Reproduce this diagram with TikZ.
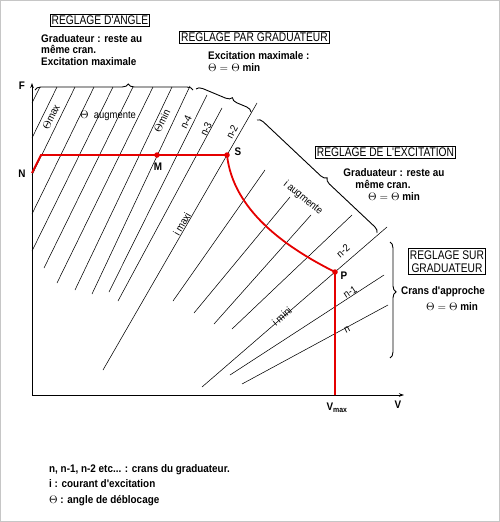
\documentclass[tikz,border=0pt]{standalone}
\usepackage{fontspec}
\setmainfont{Liberation Sans}
\newfontfamily\titlefont{Liberation Sans}[FakeStretch=0.82]
\newfontfamily\descfont{Liberation Sans}[FakeStretch=0.9]
\usetikzlibrary{decorations.pathreplacing,arrows.meta}
\tikzset{
 hatch/.style={line width=0.55pt},
 axisline/.style={line width=1pt, -{Stealth[length=5pt,width=3.5pt]}},
 redpath/.style={red!90!black, line width=1.8pt},
 reddot/.style={circle, fill=red!90!black, inner sep=0pt, minimum size=5.5pt},
 titlebox/.style={draw, line width=0.9pt, inner sep=1.6pt, font=\titlefont\fontsize{12.5}{13}\selectfont, align=center},
 desc/.style={font=\descfont\bfseries\fontsize{11}{11.8}\selectfont, align=left, inner sep=0pt},
 lab/.style={font=\descfont\bfseries\fontsize{11}{12}\selectfont, inner sep=0pt},
 rlab/.style={font=\descfont\fontsize{10.5}{12}\selectfont, inner sep=0pt},
 bracedec/.style={decorate, decoration={brace, amplitude=6pt, aspect=#1}, line width=0.9pt},
}
\begin{document}
\begin{tikzpicture}[x=1pt,y=-1pt]
\useasboundingbox (0,0) rectangle (500,522);
\draw[gray!45, line width=1.4pt] (0.7,0.7) rectangle (499.3,521.3);

% axes
\coordinate (O) at (32,395);
\coordinate (Ftip) at (32,83);
\coordinate (Vtip) at (404,395);
\draw[axisline] (O) -- (Ftip);
\draw[axisline] (O) -- (Vtip);
\node[lab] (Flab) at (22,86) {F};
\node[lab] (Vlab) at (398,405) {V};
\node[lab] (Vmax) at (337,408) {V\textsubscript{max}};

% left group of hatch lines
\foreach \a/\b/\c/\d in {40/87/32/103, 57/87/32/138, 75/87/32/175, 94/87/32/214,
   113/87/32/251, 133/87/44/268, 153/87/57/283, 172/87/75/290, 190/86/92/294,
   207/95/109/292, 222/108/118/301, 257/103/103/370,
   265/170/173/301, 290/197/194/313, 311/215/214/324, 352/215/232/329,
   387/227/202/387, 384/275/230/375, 388/305/242/384}
  \draw[hatch] (\a,\b) -- (\c,\d);

% braces
\draw[bracedec=0.59] (35,90) -- (193,90);
\draw[bracedec=0.62] (196,89) -- (251,112);
\draw[bracedec=0.55] (257,120) -- (377,233);
\draw[bracedec=0.43] (390,242) -- (390,358);

% red characteristic
\coordinate (N) at (32,173);
\coordinate (K) at (41,155);
\coordinate (M) at (157,155);
\coordinate (S) at (227,155);
\coordinate (P) at (335,272);
\coordinate (B) at (335,395);
\draw[redpath] (N) -- (K) -- (M) -- (S) .. controls (233,210) and (285,247) .. (P) -- (B);
\node[reddot] (Md) at (M) {};
\node[reddot] (Sd) at (S) {};
\node[reddot] (Pd) at (P) {};
\node[lab] (Nl) at (22,174) {N};
\node[lab] (Ml) at (158,167) {M};
\node[lab] (Sl) at (238,152) {S};
\node[lab] (Pl) at (344,276) {P};

% rotated labels
\node[rlab, rotate=64] (tmax) at (51,117) {$\Theta$max};
\node[rlab] (taug) at (108,116) {$\Theta$ \ augmente};
\node[rlab, rotate=64] (tmin) at (162,121) {$\Theta$min};
\node[rlab, rotate=64] (n4) at (186,122) {n-4};
\node[rlab, rotate=64] (n3) at (206,129) {n-3};
\node[rlab, rotate=62] (n2a) at (232,132) {n-2};
\node[rlab, rotate=60] (imaxi) at (182,224) {i maxi};
\node[rlab, rotate=-39] (iaug) at (303,198) {i augmente};
\node[rlab, rotate=41] (imini) at (282,316) {i mini};
\node[rlab, rotate=41] (n2b) at (343,251) {n-2};
\node[rlab, rotate=33] (n1) at (350,292) {n-1};
\node[rlab, rotate=28] (nn) at (347,330) {n};

% titles
\node[titlebox] (t1) at (100,20.5) {REGLAGE D'ANGLE};
\node[titlebox] (t2) at (254.5,37.5) {REGLAGE PAR GRADUATEUR};
\node[titlebox] (t3) at (385.5,152) {REGLAGE DE L'EXCITATION};
\node[titlebox, font=\titlefont\fontsize{12.5}{13.5}\selectfont] (t4) at (447,261.5) {REGLAGE SUR\\GRADUATEUR};

% descriptions
\node[desc, anchor=north west] (d1) at (41,34) {Graduateur : reste au\\même cran.\\Excitation maximale};
\node[desc, anchor=north west] (d2) at (208,51) {Excitation maximale :\\[1pt]$\Theta=\Theta$ min};
\node[desc] (d3a) at (394,173) {Graduateur : reste au};
\node[desc] (d3b) at (383,184) {même cran.};
\node[desc] (d3c) at (394,197) {$\Theta=\Theta$ min};
\node[desc] (d4a) at (443,292) {Crans d'approche};
\node[desc] (d4b) at (452,307) {$\Theta=\Theta$ min};

% legend
\node[desc, anchor=west] (g1) at (49,470) {n, n-1, n-2 etc... : crans du graduateur.};
\node[desc, anchor=west] (g2) at (49,484) {i : courant d'excitation};
\node[desc, anchor=west] (g3) at (49,501) {$\Theta$ : angle de déblocage};
\end{tikzpicture}
\end{document}
